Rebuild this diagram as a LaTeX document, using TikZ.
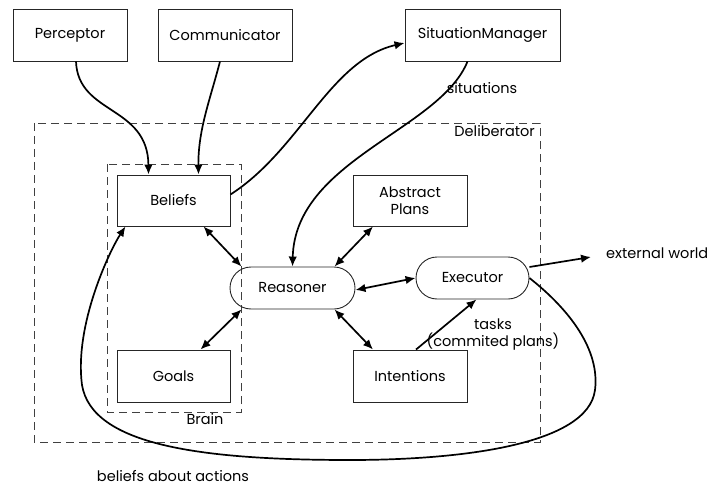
\documentclass[tikz,border=0pt]{standalone}
\usepackage{fontspec}
\setmainfont{Poppins}
\usetikzlibrary{arrows.meta,calc}
\begin{document}
\begin{tikzpicture}[x=1pt,y=-1pt,
  font=\fontsize{14.5}{17}\selectfont,
  box/.style={draw=black!85, line width=0.9pt, inner sep=0pt, align=center},
  pill/.style={box, rounded corners=21pt},
  region/.style={draw=black!75, dashed, dash pattern=on 8pt off 5pt, line width=0.9pt},
  link/.style={line width=1.7pt, -{Latex[length=10pt,width=8.5pt]}},
  twoway/.style={line width=1.7pt, {Latex[length=10pt,width=8.5pt]}-{Latex[length=10pt,width=8.5pt]}},
  lbl/.style={inner sep=0pt}]
\useasboundingbox (0,0) rectangle (711,489);

% containers
\draw[region] (34,123) rectangle (540,442);
\draw[region] (107,164) rectangle (241,412);
\node[lbl, anchor=east] (delib) at (535,131) {Deliberator};
\node[lbl] (brain) at (205,419) {Brain};

% components
\node[box, minimum width=114pt, minimum height=52pt] (perceptor) at (70,35) {Perceptor};
\node[box, minimum width=134pt, minimum height=52pt] (comm) at (225,35) {Communicator};
\node[box, minimum width=155pt, minimum height=52pt] (sitman) at (482.5,35) {SituationManager};
\node[box, minimum width=113pt, minimum height=51pt] (beliefs) at (173.5,200.5) {Beliefs};
\node[box, minimum width=113pt, minimum height=52pt] (goals) at (173.5,376) {Goals};
\node[box, minimum width=114pt, minimum height=51pt] (plans) at (410,200.5) {Abstract\\Plans};
\node[box, minimum width=114pt, minimum height=52pt] (intent) at (410,376) {Intentions};
\node[pill, minimum width=125pt, minimum height=42pt] (reasoner) at (292.5,288) {Reasoner};
\node[pill, minimum width=113pt, minimum height=42pt] (executor) at (472.5,278) {Executor};

% labels
\node[lbl] (sitlbl) at (482,88) {situations};
\node[lbl, align=center] (tasklbl) at (493,335) {tasks\\(commited plans)};
\node[lbl, anchor=west] (world) at (606,253) {external world};
\node[lbl] (actlbl) at (173,476) {beliefs about actions};
\coordinate (worldtip) at (591,257);

% inputs into the beliefs
\draw[link] ([xshift=6pt]perceptor.south) .. controls (78,115) and (148,105) .. ([xshift=-25pt]beliefs.north);
\draw[link] ([xshift=-5pt]comm.south) .. controls (210,100) and (198,130) .. ([xshift=25pt]beliefs.north);

% beliefs to situation manager, situations back to the reasoner
\draw[link] ([yshift=6pt]beliefs.east) .. controls (300,150) and (330,60) .. ([yshift=-8pt]sitman.west);
\draw[link] ([xshift=-15pt]sitman.south) .. controls (440,130) and (295,160) .. (reasoner.north);

% reasoner exchanges
\draw[twoway] ([xshift=30pt]beliefs.south) -- ([xshift=-51pt]reasoner.north);
\draw[twoway] ([xshift=27pt]goals.north) -- ([xshift=-51pt]reasoner.south);
\draw[twoway] ([xshift=-37pt]plans.south) -- ([xshift=42pt]reasoner.north);
\draw[twoway] ([xshift=-37pt]intent.north) -- ([xshift=42pt]reasoner.south);
\draw[twoway] ([yshift=-2pt]reasoner.east) -- (executor.west);

% tasks and output
\draw[link] ([xshift=6pt]intent.north) -- ([xshift=4pt]executor.south);
\draw[link] ([yshift=11pt]executor.east) -- (worldtip);

% beliefs about actions loop
\draw[link] (executor.east) .. controls (570,310) and (600,350) .. (595,390)
  .. controls (588,445) and (460,460) .. (350,460)
  .. controls (200,460) and (92,445) .. (82,385)
  .. controls (74,325) and (110,250) .. ([xshift=-48pt]beliefs.south);
\end{tikzpicture}
\end{document}
